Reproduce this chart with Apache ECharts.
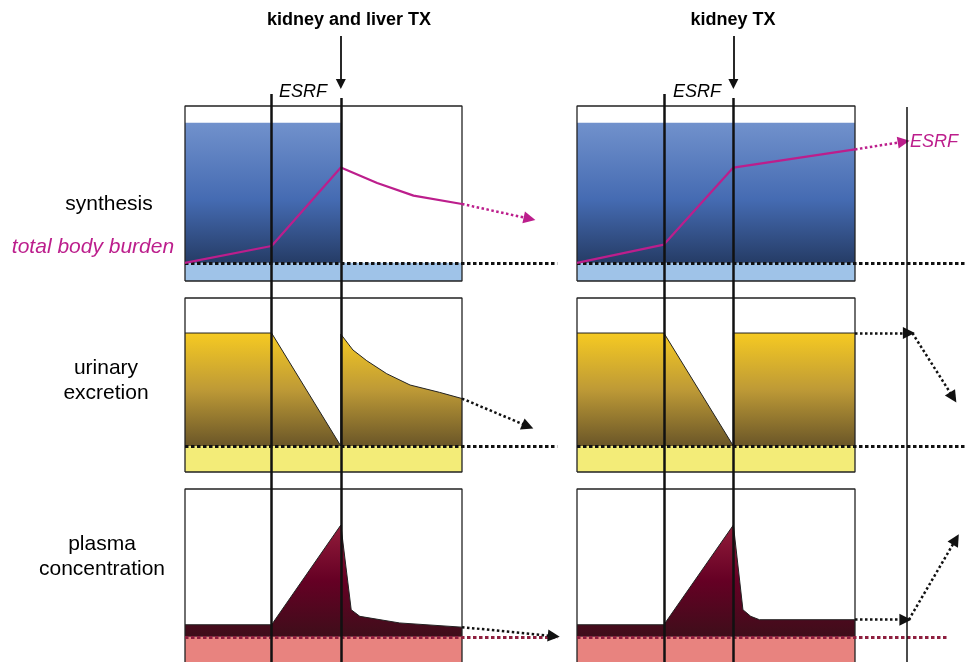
<!DOCTYPE html>
<html><head><meta charset="utf-8">
<script src="https://cdn.jsdelivr.net/npm/echarts@6/dist/echarts.min.js"></script>
<style>html,body{margin:0;padding:0;background:#fff}#c{width:966px;height:662px}</style>
</head><body><div id="c"></div>
<script>
// ---------- DATA (schematic time units: panel spans 0..16) ----------
const timeRange = [0, 16];
const eventESRF = 5;
const eventTX = 9;
const futureESRF = 19;

// value ranges of each row panel [min, max]; baseline is 0
const synthRange = [-1.3, 11.2];
const urinRange = [-2.3, 13.1];
const plasmaRange = [-2.1, 12.3];

// synthesis level (liver production)
const synthLevelLeft = [[0, 10], [9, 10]];
const synthLevelRight = [[0, 10], [16, 10]];
// total body burden
const burdenLeft = [[0, 0], [5, 1.2], [9, 6.8], [11.1, 5.7], [13.2, 4.8], [16, 4.2]];
const burdenLeftTrend = [[16, 4.2], [19.9, 3.15]];
const burdenRight = [[0, 0], [5, 1.3], [9, 6.8], [16, 8.1]];
const burdenRightTrend = [[16, 8.1], [18.8, 8.65]];

// urinary excretion
const urinaryLeft = [[0, 10], [5, 10], [9, 0], [9, 9.9], [9.7, 8.5], [10.5, 7.55], [11.65, 6.4], [13, 5.4], [14.7, 4.75], [16, 4.2]];
const urinaryLeftTrend = [[16, 4.2], [19.8, 1.75]];
const urinaryRight = [[0, 10], [5, 10], [9, 0], [9, 10], [16, 10]];
const urinaryRightTrendA = [[16, 10], [19.1, 10]];
const urinaryRightTrendB = [[19.3, 10], [21.65, 4.3]];

// plasma concentration
const plasmaLeft = [[0, 1], [5, 1], [9, 9.3], [9.6, 2.25], [10.1, 1.7], [12.4, 1.15], [16, 0.8]];
const plasmaLeftTrend = [[16, 0.8], [21.3, 0.05]];
const plasmaRight = [[0, 1], [5, 1], [9, 9.3], [9.55, 2.25], [10, 1.7], [10.5, 1.42], [16, 1.42]];
const plasmaRightTrendA = [[16, 1.42], [18.9, 1.42]];
const plasmaRightTrendB = [[19.1, 1.42], [21.8, 8.1]];

// extent of dotted baselines
const baselineLeftEnd = 21.5;
const baselineRightEnd = 22.6;
const plasmaBaselineRightEnd = 21.4;

// ---------- LAYOUT ----------
const cols = [{ left: 185, width: 277 }, { left: 577, width: 278 }];
const rows = [{ top: 106, height: 175 }, { top: 298, height: 174 }, { top: 489, height: 173 }];
const rowRanges = [synthRange, urinRange, plasmaRange];
const H = 662;

const magenta = '#BC1E8C';
const blueGrad = { type: 'linear', x: 0, y: 0, x2: 0, y2: 1, colorStops: [
  { offset: 0, color: '#7191CC' }, { offset: 0.55, color: '#456BB2' }, { offset: 1, color: '#253C66' }] };
const yellowGrad = { type: 'linear', x: 0, y: 0, x2: 0, y2: 1, colorStops: [
  { offset: 0, color: '#F6CA22' }, { offset: 0.5, color: '#BE9A36' }, { offset: 1, color: '#6A5628' }] };
const plasmaGrad = { type: 'linear', x: 0, y: 0, x2: 0, y2: 1, colorStops: [
  { offset: 0, color: '#931D3B' }, { offset: 0.5, color: '#650024' }, { offset: 1, color: '#3E0E1A' }] };

const grids = [], xAxes = [], yAxes = [];
cols.forEach(c => rows.forEach((r, ri) => {
  grids.push({ left: c.left, width: c.width, top: r.top, height: r.height });
  xAxes.push({ type: 'value', gridIndex: grids.length - 1, min: timeRange[0], max: timeRange[1], show: false });
  yAxes.push({ type: 'value', gridIndex: grids.length - 1, min: rowRanges[ri][0], max: rowRanges[ri][1], show: false });
}));
// overlay grids (full height) for the event lines
cols.forEach(c => {
  grids.push({ left: c.left, width: c.width, top: 0, height: H });
  xAxes.push({ type: 'value', gridIndex: grids.length - 1, min: timeRange[0], max: timeRange[1], show: false });
  yAxes.push({ type: 'value', gridIndex: grids.length - 1, min: 0, max: H, inverse: true, show: false });
});
const gi = (col, row) => col * 3 + row;
const overlay = col => 6 + col;

const series = [];
function line(g, data, o) {
  series.push(Object.assign({
    type: 'line', xAxisIndex: g, yAxisIndex: g, data: data, symbol: 'none', clip: false,
    silent: true, animation: false, z: 2
  }, o));
}
function band(g, range) {
  line(g, [[timeRange[0], 0], [timeRange[1], 0]], { lineStyle: { opacity: 0 }, areaStyle: { origin: 'start', color: range.color, opacity: 1 }, z: 1 });
}
function seg(g, coords, color, width, type, sym, z, size) {
  series.push({
    type: 'lines', coordinateSystem: 'cartesian2d', xAxisIndex: g, yAxisIndex: g, clip: false, silent: true, animation: false,
    data: [{ coords: coords }], symbol: sym ? ['none', 'triangle'] : ['none', 'none'], symbolSize: size || 12,
    lineStyle: { color: color, width: width, type: type, opacity: 1, curveness: 0 }, z: z
  });
}
function dots(g, x0, x1, color) {
  seg(g, [[x0, 0], [x1, 0]], color, 3, [3.5, 2.5], false, 6);
}
function frame(g, range, open) {
  const d = open ? [[0, range[0]], [0, range[1]], [16, range[1]], [16, range[0]]]
                 : [[0, range[0]], [0, range[1]], [16, range[1]], [16, range[0]], [0, range[0]]];
  line(g, d, { lineStyle: { color: '#222', width: 1.3 }, z: 4 });
}
function arrow(g, coords, color, dashed, width, size) {
  seg(g, coords, color, width || 2.5, dashed ? [2.5, 2.5] : 'solid', true, 7, size);
}
function vline(g, coords, width) {
  seg(g, coords, '#111', width, 'solid', false, 9);
}

// ---- synthesis row ----
[[synthLevelLeft, burdenLeft, burdenLeftTrend, baselineLeftEnd], [synthLevelRight, burdenRight, burdenRightTrend, baselineRightEnd]].forEach((s, c) => {
  const g = gi(c, 0);
  band(g, { color: '#9FC3E8' });
  line(g, s[0], { lineStyle: { opacity: 0 }, areaStyle: { color: blueGrad, opacity: 1 }, z: 1 });
  frame(g, synthRange, false);
  dots(g, 0, s[3], '#111');
  line(g, s[1], { lineStyle: { color: magenta, width: 2.2 }, z: 8 });
  arrow(g, s[2], magenta, true, 2.5);
});
// ---- urinary row ----
[[urinaryLeft, baselineLeftEnd], [urinaryRight, baselineRightEnd]].forEach((s, c) => {
  const g = gi(c, 1);
  band(g, { color: '#F3EC78' });
  line(g, s[0], { lineStyle: { color: '#222', width: 1 }, areaStyle: { color: yellowGrad, opacity: 1 }, z: 2 });
  frame(g, urinRange, false);
  dots(g, 0, s[1], '#111');
});
arrow(gi(0, 1), urinaryLeftTrend, '#111', true);
arrow(gi(1, 1), urinaryRightTrendA, '#111', true);
arrow(gi(1, 1), urinaryRightTrendB, '#111', true);
// ---- plasma row ----
[[plasmaLeft, baselineLeftEnd], [plasmaRight, plasmaBaselineRightEnd]].forEach((s, c) => {
  const g = gi(c, 2);
  band(g, { color: '#E8837F' });
  line(g, s[0], { lineStyle: { color: '#222', width: 1 }, areaStyle: { color: plasmaGrad, opacity: 1 }, z: 2 });
  frame(g, plasmaRange, true);
  dots(g, 0, s[1], '#8E1F3F');
});
arrow(gi(0, 2), plasmaLeftTrend, '#111', true);
arrow(gi(1, 2), plasmaRightTrendA, '#111', true);
arrow(gi(1, 2), plasmaRightTrendB, '#111', true);

// ---- event lines ----
const esrfTop = 94, txTop = 98, txArrowTop = 36, txArrowTip = 84, futureTop = 107;
[0, 1].forEach(c => {
  vline(overlay(c), [[eventESRF, esrfTop], [eventESRF, H]], 2.5);
  vline(overlay(c), [[eventTX, txTop], [eventTX, H]], 2.5);
  arrow(overlay(c), [[eventTX, txArrowTop], [eventTX, txArrowTip]], '#111', false, 1.8, 10);
});
vline(overlay(1), [[futureESRF, futureTop], [futureESRF, H]], 1.5);

const ff = '"Liberation Sans", Arial, sans-serif';
function txt(x, y, text, o) {
  return { type: 'text', x: x, y: y, silent: true, z: 20,
    style: Object.assign({ text: text, fontFamily: ff, fontSize: 21, fill: '#000', align: 'center', verticalAlign: 'middle', lineHeight: 25 }, o) };
}
const graphic = [
  txt(349, 20, 'kidney and liver TX', { fontWeight: 'bold', fontSize: 18 }),
  txt(733, 20, 'kidney TX', { fontWeight: 'bold', fontSize: 18 }),
  txt(303, 92, 'ESRF', { fontStyle: 'italic', fontSize: 18 }),
  txt(697, 92, 'ESRF', { fontStyle: 'italic', fontSize: 18 }),
  txt(910, 142, 'ESRF', { fontStyle: 'italic', fontSize: 18, fill: magenta, align: 'left' }),
  txt(109, 204, 'synthesis'),
  txt(93, 247, 'total body burden', { fontStyle: 'italic', fill: magenta }),
  txt(106, 381, 'urinary\nexcretion'),
  txt(102, 557, 'plasma\nconcentration')
];

const chart = echarts.init(document.getElementById('c'), null, { renderer: 'canvas' });
chart.setOption({
  animation: false, backgroundColor: '#fff',
  grid: grids, xAxis: xAxes, yAxis: yAxes, series: series, graphic: graphic
});
</script></body></html>
